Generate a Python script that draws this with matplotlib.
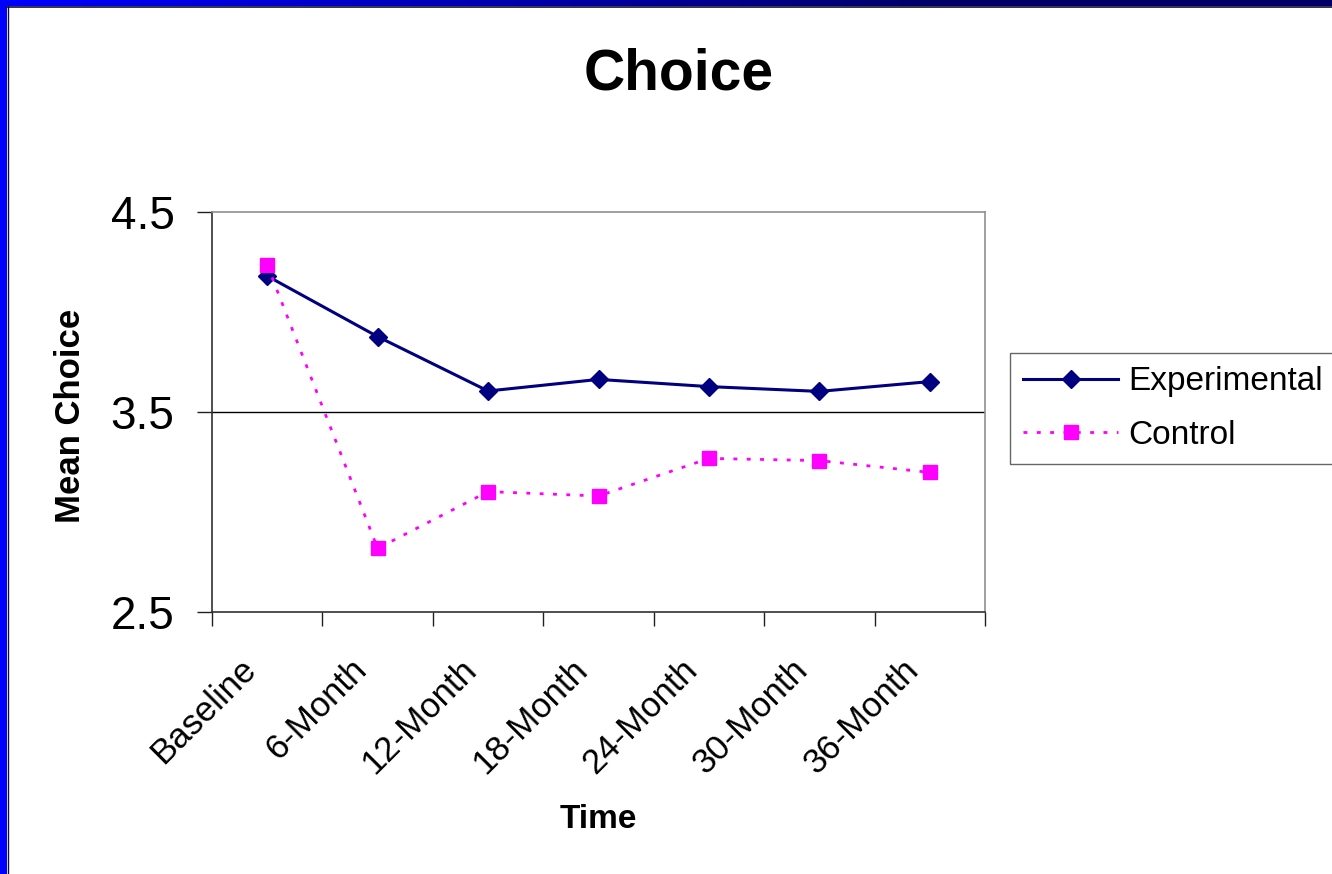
import numpy as np
import matplotlib
matplotlib.use("Agg")
import matplotlib.pyplot as plt
import matplotlib.transforms as mtransforms

plt.rcParams['font.family'] = ['Liberation Sans', 'DejaVu Sans']

# Data
time_points = ['Baseline', '6-Month', '12-Month', '18-Month', '24-Month', '30-Month', '36-Month']
experimental = [4.18, 3.877, 3.605, 3.663, 3.627, 3.603, 3.652]
control = [4.235, 2.818, 3.102, 3.08, 3.268, 3.257, 3.198]
y_ticks = [2.5, 3.5, 4.5]

W, H = 1332, 874
fig = plt.figure(figsize=(W / 100, H / 100), dpi=100)
fig.patch.set_facecolor('white')

# slide frame: blue left bar, gradient top bar
left_bar = fig.add_axes([0, 0, 7 / W, 1])
left_bar.set_facecolor('#0000ff')
left_bar.set_xticks([])
left_bar.set_yticks([])
for s in left_bar.spines.values():
    s.set_visible(False)
top_bar = fig.add_axes([0, 1 - 6 / H, 1, 6 / H])
grad = np.linspace(0, 1, 256)
cols = np.zeros((1, 256, 3))
cols[0, :, 2] = 1.0 - 0.6 * np.clip(grad * 1.4, 0, 1)
top_bar.imshow(cols, aspect='auto', extent=[0, 1, 0, 1])
top_bar.axis('off')
fig.add_artist(plt.Line2D([7.5 / W, 7.5 / W], [0, 1 - 6 / H], color='#101030', lw=1))
fig.add_artist(plt.Line2D([7 / W, 1], [1 - 6.5 / H, 1 - 6.5 / H], color='#101030', lw=1.2))

ax = fig.add_axes([212 / W, 1 - 612 / H, 773 / W, 400 / H])
x = np.arange(len(time_points))

ax.plot(x, experimental, color='#000080', lw=2.2, marker='D', ms=9,
        mec='#000080', mfc='#000080', label='Experimental', zorder=3)
ax.plot(x, control, color='#ff00ff', lw=2.0, linestyle=(0, (1.4, 3.4)), marker='s', ms=10,
        mec='#ff00ff', mfc='#ff00ff', label='Control', zorder=4)

ax.set_xlim(-0.5, len(time_points) - 0.5)
ax.set_ylim(2.5, 4.5)
ax.set_yticks(y_ticks)
ax.set_yticklabels([str(v) for v in y_ticks], fontsize=33)
ax.tick_params(axis='y', length=11, width=1, pad=16, color='#202020')

ax.set_xticks(np.arange(-0.5, len(time_points)), minor=False)
ax.set_xticklabels([])
ax.tick_params(axis='x', which='major', length=10, width=1, color='#202020')
ax.set_xticks(x, minor=True)
ax.set_xticklabels(time_points, minor=True, rotation=45, ha='right',
                   rotation_mode='anchor', fontsize=25)
ax.tick_params(axis='x', which='minor', length=0, pad=22)
shift = mtransforms.ScaledTranslation(-28 / 100, -10 / 100, fig.dpi_scale_trans)
for lab in ax.get_xticklabels(minor=True):
    lab.set_transform(lab.get_transform() + shift)

ax.axhline(3.5, color='black', lw=1, zorder=1)

ax.spines['left'].set_color('#303030')
ax.spines['bottom'].set_color('#303030')
ax.spines['top'].set_color('#909090')
ax.spines['right'].set_color('#909090')
for s in ax.spines.values():
    s.set_linewidth(1.2)

ax.set_ylabel('Mean Choice', fontsize=25, fontweight='bold')
ax.yaxis.set_label_coords(-0.162, 0.49)
ax.set_xlabel('Time', fontsize=24, fontweight='bold')
ax.xaxis.set_label_coords(0.4994, -0.48)

fig.text(679 / W, 1 - 75 / H, 'Choice', fontsize=41, fontweight='bold',
         ha='center', va='center')

leg = fig.legend(loc='upper left', bbox_to_anchor=(1010 / W, 1 - 353 / H),
                 fontsize=24, frameon=True, fancybox=False, edgecolor='#404040',
                 handlelength=2.85, handletextpad=0.3, labelspacing=0.68,
                 borderpad=0.4, borderaxespad=0)
leg.get_frame().set_linewidth(1)

fig.savefig('out.png', dpi=100)
